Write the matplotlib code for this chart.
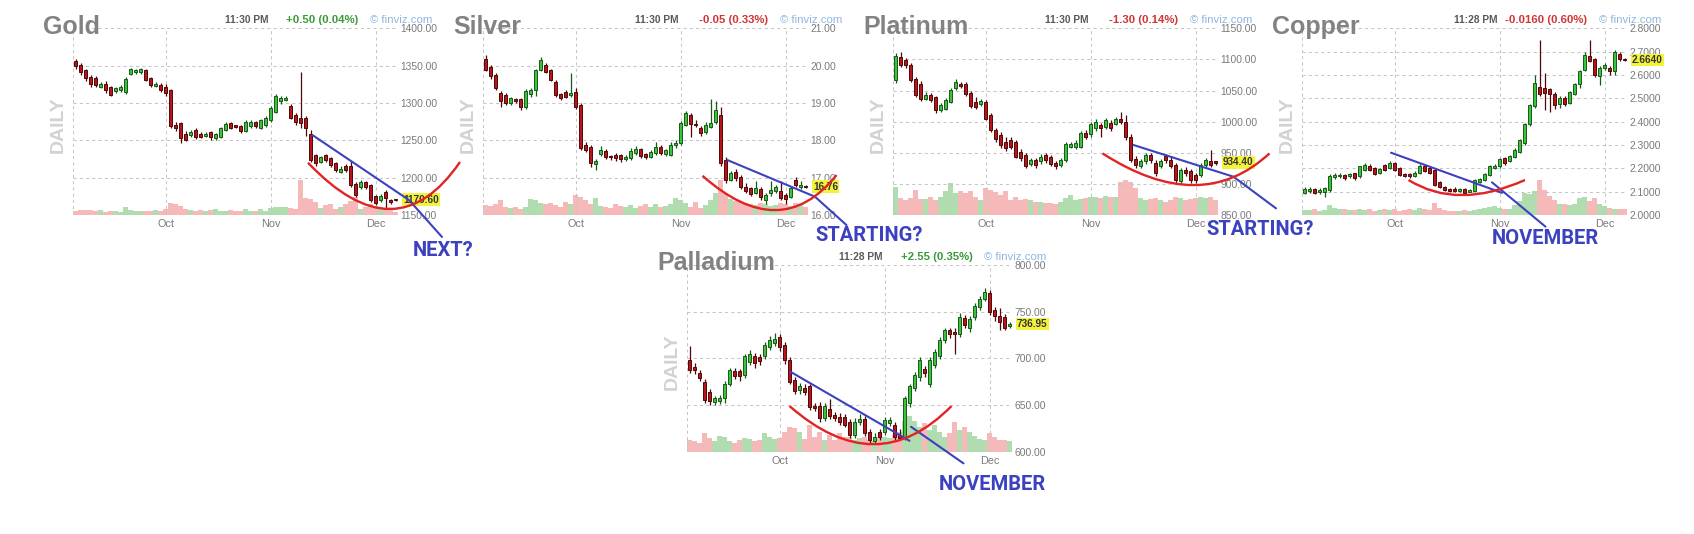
import matplotlib
matplotlib.use("Agg")
import matplotlib.pyplot as plt
from matplotlib.path import Path
from matplotlib.patches import PathPatch
from matplotlib.transforms import blended_transform_factory

# ---------------- DATA ----------------
MONTHS = ["Oct", "Nov", "Dec"]
MONTH_POS = [18, 39, 60]

GOLD_OPEN = [1356, 1351, 1344, 1335, 1333, 1322, 1326, 1321, 1316, 1317,
             1315, 1339, 1341, 1341, 1344, 1333, 1323, 1324, 1322, 1317,
             1271, 1273, 1259, 1257, 1264, 1259, 1256, 1261, 1253, 1255,
             1264, 1273, 1269, 1269, 1263, 1269, 1274, 1267, 1270, 1277,
             1288, 1302, 1304, 1296, 1284, 1280, 1280, 1259, 1230, 1221,
             1230, 1226, 1219, 1208, 1215, 1215, 1192, 1188, 1194, 1190,
             1175, 1170, 1181, 1170, 1171]
GOLD_CLOSE = [1349, 1341, 1333, 1325, 1324, 1326, 1317, 1311, 1320, 1321,
              1332, 1345, 1344, 1345, 1331, 1324, 1326, 1317, 1313, 1269,
              1266, 1253, 1251, 1261, 1255, 1255, 1259, 1254, 1258, 1266,
              1272, 1267, 1268, 1262, 1275, 1275, 1269, 1277, 1280, 1293,
              1310, 1306, 1307, 1280, 1274, 1273, 1266, 1224, 1219, 1227,
              1224, 1217, 1210, 1212, 1210, 1190, 1177, 1194, 1188, 1170,
              1166, 1175, 1173, 1168, 1170]
GOLD_HIGH = [1359, 1353, 1346, 1337, 1336, 1328, 1329, 1323, 1322, 1324,
             1335, 1347, 1346, 1347, 1346, 1335, 1328, 1327, 1325, 1319,
             1274, 1275, 1262, 1264, 1266, 1261, 1261, 1263, 1260, 1268,
             1274, 1275, 1271, 1271, 1277, 1277, 1276, 1279, 1283, 1296,
             1312, 1309, 1309, 1298, 1286, 1341, 1282, 1264, 1232, 1229,
             1232, 1228, 1221, 1215, 1218, 1222, 1194, 1197, 1196, 1192,
             1177, 1178, 1184, 1172, 1172]
GOLD_LOW = [1346, 1338, 1330, 1322, 1321, 1320, 1314, 1309, 1314, 1315,
            1312, 1337, 1339, 1339, 1329, 1321, 1321, 1315, 1310, 1266,
            1263, 1246, 1249, 1255, 1252, 1253, 1254, 1250, 1251, 1253,
            1262, 1265, 1266, 1260, 1261, 1267, 1267, 1265, 1268, 1275,
            1286, 1299, 1302, 1278, 1271, 1266, 1256, 1221, 1216, 1219,
            1221, 1214, 1207, 1206, 1207, 1187, 1174, 1185, 1185, 1167,
            1163, 1167, 1160, 1165, 1169]
GOLD_VOL = [12, 13, 14, 13, 10, 14, 8, 12, 10, 9,
            22, 14, 12, 11, 12, 10, 13, 10, 18, 35,
            30, 26, 18, 14, 12, 15, 11, 14, 16, 12,
            10, 13, 12, 11, 16, 12, 10, 17, 12, 20,
            24, 22, 22, 20, 18, 100, 48, 45, 38, 20,
            28, 30, 18, 22, 30, 40, 50, 18, 22, 32,
            25, 18, 20, 14, 8]

SILVER_OPEN = [20.17, 19.97, 19.75, 19.26, 19.21, 18.99, 19.10, 19.10, 18.88, 19.23,
               19.35, 19.88, 20.02, 19.88, 19.57, 19.23, 19.30, 19.21, 19.30, 18.95,
               17.88, 17.83, 17.36, 17.63, 17.72, 17.58, 17.60, 17.60, 17.49, 17.52,
               17.67, 17.77, 17.63, 17.56, 17.66, 17.83, 17.63, 17.61, 17.87, 17.92,
               18.41, 18.68, 18.44, 18.34, 18.23, 18.37, 18.50, 18.68, 17.47, 16.94,
               17.16, 17.03, 16.76, 16.71, 16.60, 16.69, 16.40, 16.58, 16.65, 16.65,
               16.54, 16.49, 16.94, 16.74, 16.78]
SILVER_CLOSE = [19.88, 19.71, 19.39, 19.04, 18.99, 19.12, 19.05, 18.88, 19.33, 19.35,
                19.87, 20.15, 19.84, 19.62, 19.21, 19.13, 19.17, 19.28, 18.90, 17.79,
                17.74, 17.38, 17.45, 17.74, 17.56, 17.54, 17.52, 17.49, 17.56, 17.72,
                17.77, 17.58, 17.56, 17.69, 17.83, 17.67, 17.73, 17.87, 17.92, 18.46,
                18.72, 18.44, 18.40, 18.19, 18.41, 18.47, 18.81, 17.38, 16.94, 17.12,
                16.98, 16.76, 16.63, 16.56, 16.71, 16.49, 16.54, 16.67, 16.74, 16.45,
                16.42, 16.71, 16.80, 16.80, 16.75]
SILVER_HIGH = [20.28, 20.02, 19.80, 19.32, 19.28, 19.16, 19.14, 19.14, 19.38, 19.40,
               19.90, 20.22, 20.06, 19.92, 19.62, 19.28, 19.35, 19.80, 19.40, 19.00,
               17.95, 17.88, 17.50, 17.85, 17.78, 17.62, 17.65, 17.64, 17.60, 17.80,
               17.85, 17.80, 17.66, 17.75, 17.95, 17.88, 17.78, 17.95, 18.00, 18.52,
               18.78, 18.72, 18.55, 18.38, 18.48, 19.10, 19.05, 18.90, 17.55, 17.18,
               17.22, 17.08, 16.85, 16.75, 16.90, 16.75, 16.58, 16.90, 16.80, 16.92,
               16.60, 16.76, 17.02, 16.90, 16.80]
SILVER_LOW = [19.85, 19.65, 19.35, 18.90, 18.95, 18.95, 19.00, 18.82, 18.85, 19.15,
              19.20, 19.85, 19.80, 19.58, 19.16, 19.08, 19.12, 19.17, 18.85, 17.75,
              17.68, 17.28, 17.20, 17.58, 17.50, 17.48, 17.45, 17.42, 17.45, 17.48,
              17.62, 17.52, 17.50, 17.52, 17.62, 17.62, 17.58, 17.58, 17.80, 17.88,
              18.38, 18.10, 18.35, 18.12, 18.18, 18.32, 18.45, 17.30, 16.85, 16.90,
              16.92, 16.70, 16.58, 16.50, 16.55, 16.40, 16.30, 16.52, 16.60, 16.40,
              16.30, 16.45, 16.75, 16.70, 16.72]
SILVER_VOL = [29, 26, 31, 43, 24, 19, 22, 16, 24, 45,
              43, 35, 31, 35, 29, 24, 38, 31, 57, 52,
              43, 31, 48, 26, 24, 19, 31, 26, 22, 29,
              19, 26, 31, 24, 31, 22, 26, 31, 48, 43,
              35, 24, 38, 19, 29, 43, 62, 100, 62, 45,
              40, 38, 35, 31, 29, 35, 31, 26, 29, 33,
              31, 26, 35, 29, 24]

PLAT_OPEN = [1067, 1104, 1099, 1091, 1068, 1061, 1037, 1043, 1039, 1019,
             1021, 1032, 1054, 1061, 1061, 1046, 1031, 1028, 1031, 1011,
             987, 979, 968, 971, 968, 952, 946, 932, 938, 936,
             946, 943, 934, 930, 938, 960, 960, 960, 981, 980,
             989, 994, 992, 998, 997, 1005, 1000, 976, 940, 929,
             936, 946, 934, 928, 945, 939, 930, 904, 923, 920,
             914, 914, 930, 936, 935]
PLAT_CLOSE = [1105, 1091, 1091, 1067, 1043, 1036, 1043, 1035, 1019, 1027,
              1035, 1051, 1064, 1057, 1044, 1025, 1023, 1033, 1005, 986,
              972, 963, 957, 960, 944, 941, 929, 938, 930, 944,
              938, 932, 928, 938, 964, 964, 966, 981, 976, 997,
              1000, 989, 1003, 989, 1005, 1000, 976, 939, 930, 936,
              946, 938, 917, 936, 938, 928, 906, 922, 917, 906,
              906, 930, 938, 930, 934]
PLAT_HIGH = [1110, 1112, 1102, 1094, 1072, 1065, 1047, 1046, 1042, 1030,
             1038, 1054, 1068, 1064, 1063, 1049, 1040, 1036, 1034, 1014,
             990, 984, 975, 975, 971, 956, 949, 941, 941, 948,
             950, 946, 937, 941, 967, 968, 970, 985, 986, 1000,
             1004, 998, 1006, 1002, 1008, 1016, 1010, 980, 945, 940,
             950, 950, 938, 940, 948, 943, 933, 926, 927, 924,
             917, 933, 942, 955, 937]
PLAT_LOW = [1062, 1088, 1086, 1064, 1040, 1033, 1034, 1031, 1014, 1016,
            1018, 1030, 1051, 1054, 1041, 1022, 1020, 1025, 1002, 983,
            968, 958, 953, 956, 941, 937, 925, 928, 926, 932,
            934, 929, 924, 927, 935, 957, 956, 957, 972, 976,
            985, 976, 988, 985, 994, 997, 970, 935, 926, 925,
            932, 934, 913, 925, 934, 925, 902, 900, 913, 902,
            902, 911, 927, 927, 931]
PLAT_VOL = [79, 48, 43, 48, 71, 45, 46, 52, 43, 52,
            67, 92, 62, 67, 62, 67, 52, 43, 76, 71,
            64, 57, 67, 43, 52, 43, 45, 43, 38, 38,
            33, 33, 31, 38, 48, 57, 43, 45, 48, 52,
            52, 48, 54, 52, 52, 95, 100, 95, 76, 48,
            43, 45, 48, 43, 38, 43, 52, 48, 43, 45,
            48, 52, 48, 52, 43]

COPPER_OPEN = [2.093, 2.102, 2.110, 2.098, 2.100, 2.105, 2.162, 2.165, 2.170, 2.165,
               2.178, 2.165, 2.194, 2.212, 2.200, 2.180, 2.215, 2.200, 2.222, 2.200,
               2.176, 2.176, 2.168, 2.180, 2.208, 2.200, 2.194, 2.143, 2.119, 2.112,
               2.113, 2.102, 2.110, 2.100, 2.102, 2.140, 2.150, 2.172, 2.200, 2.208,
               2.245, 2.230, 2.250, 2.270, 2.310, 2.390, 2.467, 2.550, 2.546, 2.538,
               2.520, 2.475, 2.503, 2.480, 2.520, 2.560, 2.622, 2.682, 2.667, 2.596,
               2.628, 2.632, 2.618, 2.690, 2.670]
COPPER_CLOSE = [2.110, 2.112, 2.096, 2.108, 2.115, 2.165, 2.172, 2.172, 2.158, 2.175,
                2.160, 2.208, 2.215, 2.194, 2.176, 2.197, 2.194, 2.222, 2.194, 2.172,
                2.168, 2.165, 2.182, 2.212, 2.190, 2.180, 2.129, 2.119, 2.107, 2.104,
                2.104, 2.110, 2.096, 2.106, 2.150, 2.155, 2.176, 2.208, 2.212, 2.240,
                2.222, 2.252, 2.280, 2.320, 2.390, 2.470, 2.564, 2.517, 2.524, 2.517,
                2.470, 2.500, 2.474, 2.527, 2.560, 2.617, 2.685, 2.660, 2.600, 2.632,
                2.642, 2.618, 2.700, 2.670, 2.664]
COPPER_HIGH = [2.118, 2.118, 2.115, 2.115, 2.120, 2.175, 2.178, 2.178, 2.175, 2.182,
               2.182, 2.212, 2.222, 2.218, 2.205, 2.202, 2.220, 2.230, 2.228, 2.205,
               2.180, 2.180, 2.188, 2.218, 2.214, 2.205, 2.198, 2.147, 2.124, 2.116,
               2.118, 2.115, 2.114, 2.110, 2.155, 2.160, 2.181, 2.213, 2.218, 2.246,
               2.250, 2.258, 2.286, 2.326, 2.396, 2.476, 2.600, 2.750, 2.610, 2.545,
               2.525, 2.508, 2.510, 2.533, 2.566, 2.623, 2.700, 2.752, 2.672, 2.638,
               2.650, 2.640, 2.708, 2.700, 2.674]
COPPER_LOW = [2.088, 2.095, 2.090, 2.092, 2.075, 2.100, 2.155, 2.160, 2.150, 2.158,
              2.152, 2.160, 2.190, 2.188, 2.170, 2.175, 2.188, 2.195, 2.188, 2.166,
              2.162, 2.158, 2.162, 2.175, 2.185, 2.176, 2.124, 2.114, 2.102, 2.099,
              2.100, 2.098, 2.092, 2.097, 2.100, 2.136, 2.146, 2.168, 2.196, 2.203,
              2.216, 2.225, 2.245, 2.265, 2.300, 2.380, 2.460, 2.510, 2.450, 2.440,
              2.455, 2.460, 2.465, 2.475, 2.515, 2.545, 2.615, 2.655, 2.590, 2.555,
              2.620, 2.600, 2.600, 2.662, 2.660]
COPPER_VOL = [14, 15, 17, 12, 14, 28, 20, 16, 18, 14,
              15, 18, 14, 16, 12, 14, 16, 15, 18, 12,
              14, 17, 14, 20, 16, 14, 33, 20, 15, 12,
              10, 12, 14, 10, 15, 18, 20, 22, 25, 20,
              18, 16, 28, 40, 62, 60, 68, 100, 72, 55,
              42, 30, 32, 28, 30, 48, 52, 40, 48, 32,
              25, 20, 18, 16, 16]

PALL_OPEN = [698, 691, 684, 675, 664, 653, 654, 657, 673, 686,
             686, 682, 696, 702, 701, 702, 712, 716, 723, 714,
             698, 677, 666, 668, 670, 649, 649, 636, 646, 639,
             637, 637, 632, 618, 632, 635, 621, 611, 621, 621,
             631, 629, 618, 616, 652, 668, 680, 689, 673, 693,
             703, 720, 730, 728, 726, 743, 733, 744, 755, 764,
             770, 752, 745, 744, 735]
PALL_CLOSE = [688, 687, 679, 655, 654, 657, 657, 673, 687, 681,
              681, 702, 705, 695, 697, 714, 720, 721, 712, 698,
              675, 665, 670, 664, 648, 647, 636, 649, 638, 636,
              632, 629, 618, 632, 635, 620, 612, 616, 616, 634,
              634, 616, 615, 657, 670, 682, 698, 684, 698, 707,
              720, 730, 726, 726, 744, 736, 742, 756, 764, 771,
              750, 745, 739, 732, 737]
PALL_HIGH = [713, 695, 688, 678, 667, 660, 661, 676, 690, 690,
             689, 705, 709, 706, 705, 717, 724, 727, 726, 717,
             701, 680, 674, 672, 673, 652, 653, 652, 656, 643,
             641, 640, 635, 636, 640, 638, 624, 620, 624, 637,
             637, 632, 624, 660, 673, 685, 701, 692, 701, 710,
             723, 733, 733, 732, 749, 746, 745, 759, 767, 775,
             773, 755, 754, 748, 739]
PALL_LOW = [684, 683, 676, 652, 650, 650, 651, 652, 670, 678,
            676, 679, 693, 690, 693, 699, 709, 713, 708, 694,
            672, 662, 662, 661, 645, 644, 632, 633, 635, 633,
            629, 626, 615, 615, 629, 617, 609, 608, 612, 618,
            628, 613, 612, 613, 648, 665, 676, 680, 669, 690,
            699, 716, 722, 705, 723, 732, 728, 741, 752, 761,
            746, 740, 730, 730, 733]
PALL_VOL = [33, 29, 24, 54, 38, 29, 45, 43, 29, 26,
            33, 38, 35, 29, 33, 52, 41, 36, 38, 57,
            70, 67, 57, 35, 76, 43, 57, 33, 48, 33,
            52, 43, 43, 33, 38, 43, 33, 29, 41, 43,
            38, 48, 57, 86, 100, 86, 71, 81, 62, 76,
            57, 43, 54, 83, 62, 71, 57, 45, 35, 33,
            52, 43, 33, 33, 30]

# hand-drawn annotations (data coordinates of each panel)
GOLD_BLUE = [[(47.4, 1257), (66.7, 1170), (73.3, 1120.6)]]
GOLD_RED = [(46.5, 1220), (62.9, 1158), (76.9, 1221)]
SILVER_BLUE = [[(48.4, 17.47), (65.9, 16.49), (72.2, 15.73)]]
SILVER_RED = [(43.4, 17.05), (57.9, 16.13), (70.2, 17.07)]
PLAT_BLUE = [[(47.6, 962.5), (67.6, 911.5), (76.1, 860.7)]]
PLAT_RED = [(41.4, 949), (59.6, 898), (74.8, 949)]
COPPER_BLUE = [[(17.3, 2.267), (39.5, 2.095)], [(37.5, 2.14), (48.2, 1.95)]]
COPPER_RED = [(20.8, 2.15), (31.5, 2.085), (44.1, 2.15)]
PALL_BLUE = [[(20.2, 685.6), (44.0, 611.7)], [(44.3, 626.7), (54.8, 587.5)]]
PALL_RED = [(20.0, 648.9), (36.8, 608), (52.4, 648.9)]

# ---------------- STYLE / LAYOUT ----------------
W, H = 1694, 534
DPI = 100
PW, PH = 325.0, 186.7
RED_F, RED_E = "#b8141b", "#4f0808"
GRN_F, GRN_E = "#3cc23c", "#175a17"
VOL_R, VOL_G = "#f6b9b9", "#b0dcb0"
ANN_BLUE = "#3c41c0"
ANN_RED = "#e02424"
GRID = "#c6c6c6"

panels = [
    dict(name="Gold", left=73, top=28.3, o=GOLD_OPEN, c=GOLD_CLOSE, h=GOLD_HIGH, l=GOLD_LOW,
         v=GOLD_VOL, ylim=(1150, 1400), ticks=[1150, 1200, 1250, 1300, 1350, 1400], fmt="%.2f",
         time="11:30 PM", chg="+0.50 (0.04%)", chgc="#3a9a3a", last=1170.60, lastlbl="1170.60",
         blue=GOLD_BLUE, red=GOLD_RED, ann="NEXT?", ann_off=(339.7, 222.4)),
    dict(name="Silver", left=483, top=28.3, o=SILVER_OPEN, c=SILVER_CLOSE, h=SILVER_HIGH, l=SILVER_LOW,
         v=SILVER_VOL, ylim=(16, 21), ticks=[16, 17, 18, 19, 20, 21], fmt="%.2f",
         time="11:30 PM", chg="-0.05 (0.33%)", chgc="#d03434", last=16.76, lastlbl="16.76",
         blue=SILVER_BLUE, red=SILVER_RED, ann="STARTING?", ann_off=(332, 207)),
    dict(name="Platinum", left=893, top=28.3, o=PLAT_OPEN, c=PLAT_CLOSE, h=PLAT_HIGH, l=PLAT_LOW,
         v=PLAT_VOL, ylim=(850, 1150), ticks=[850, 900, 950, 1000, 1050, 1100, 1150], fmt="%.2f",
         time="11:30 PM", chg="-1.30 (0.14%)", chgc="#d03434", last=934.40, lastlbl="934.40",
         blue=PLAT_BLUE, red=PLAT_RED, ann="STARTING?", ann_off=(313.7, 201)),
    dict(name="Copper", left=1302, top=28.3, o=COPPER_OPEN, c=COPPER_CLOSE, h=COPPER_HIGH, l=COPPER_LOW,
         v=COPPER_VOL, ylim=(2.0, 2.8), ticks=[2.0, 2.1, 2.2, 2.3, 2.4, 2.5, 2.6, 2.7, 2.8], fmt="%.4f",
         time="11:28 PM", chg="-0.0160 (0.60%)", chgc="#d03434", last=2.664, lastlbl="2.6640",
         blue=COPPER_BLUE, red=COPPER_RED, ann="NOVEMBER", ann_off=(189.7, 209.7)),
    dict(name="Palladium", left=687, top=265, o=PALL_OPEN, c=PALL_CLOSE, h=PALL_HIGH, l=PALL_LOW,
         v=PALL_VOL, ylim=(600, 800), ticks=[600, 650, 700, 750, 800], fmt="%.2f",
         time="11:28 PM", chg="+2.55 (0.35%)", chgc="#3a9a3a", last=736.95, lastlbl="736.95",
         blue=PALL_BLUE, red=PALL_RED, ann="NOVEMBER", ann_off=(251.3, 220)),
]

fig = plt.figure(figsize=(W / DPI, H / DPI), dpi=DPI)
fig.patch.set_facecolor("white")
SANS = "Liberation Sans"


def ftext(px, py, s, **kw):
    return fig.text(px / W, 1 - py / H, s, **kw)


for p in panels:
    left, top = p["left"], p["top"]
    rect = [left / W, 1 - (top + PH) / H, PW / W, PH / H]
    n = len(p["c"])
    xs = list(range(n))
    up = [c >= o for o, c in zip(p["o"], p["c"])]

    # volume layer
    axv = fig.add_axes(rect, zorder=1)
    axv.set_xlim(-0.5, 64.5)
    axv.set_ylim(0, 530)
    axv.axis("off")
    axv.bar(xs, p["v"], width=1.0, color=[VOL_G if u else VOL_R for u in up], linewidth=0)

    # price layer
    ax = fig.add_axes(rect, zorder=2)
    ax.set_facecolor("none")
    ax.set_xlim(-0.5, 64.5)
    ax.set_ylim(*p["ylim"])
    for s in ax.spines.values():
        s.set_visible(False)
    ax.set_yticks(p["ticks"])
    ax.yaxis.tick_right()
    ax.set_yticklabels([p["fmt"] % t for t in p["ticks"]], fontsize=7.4, color="#7a7a7a",
                       family=SANS)
    ax.tick_params(axis="y", length=0, pad=1.5)
    ax.set_xticks(MONTH_POS)
    ax.set_xticklabels(MONTHS, fontsize=7.8, color="#7a7a7a", family=SANS)
    ax.tick_params(axis="x", length=0, pad=3.0)
    ax.grid(True, color=GRID, linestyle=(0, (3, 3)), linewidth=0.75)
    ax.set_axisbelow(True)
    for xb in (-0.5, 64.5):
        ax.axvline(xb, color=GRID, linestyle=(0, (3, 3)), linewidth=0.75, zorder=0.5)

    # candles
    fills = [GRN_F if u else RED_F for u in up]
    edges = [GRN_E if u else RED_E for u in up]
    span = p["ylim"][1] - p["ylim"][0]
    ax.vlines(xs, p["l"], p["h"], colors=edges, linewidth=0.9, zorder=3)
    bottoms = [min(o, c) for o, c in zip(p["o"], p["c"])]
    heights = [max(abs(c - o), span * 0.008) for o, c in zip(p["o"], p["c"])]
    ax.bar(xs, heights, bottom=bottoms, width=0.74, color=fills, edgecolor=edges,
           linewidth=0.7, zorder=4)

    # last price label
    tr = blended_transform_factory(ax.transAxes, ax.transData)
    ax.text(1.0 + 5.0 / PW, p["last"], p["lastlbl"], transform=tr, ha="left", va="center",
            fontsize=7.2, color="#333333", fontweight="bold", family=SANS, zorder=5,
            bbox=dict(boxstyle="square,pad=0.12", fc="#f3f33c", ec="none"))

    # vertical DAILY
    ax.text(-14.5 / PW, 1 - 96.7 / PH, "DAILY", transform=ax.transAxes, rotation=90,
            ha="center", va="center", fontsize=14, fontweight="bold", color="#d2d2d2",
            family=SANS)

    # header texts
    ftext(left - 30, top + 5.5, p["name"], fontsize=18, fontweight="bold", color="#828282",
          family=SANS, ha="left", va="baseline")
    ftext(left + 152, top - 5.5, p["time"], fontsize=7.4, fontweight="bold", color="#5a5a5a",
          family=SANS, ha="left", va="baseline")
    ftext(left + 285.5, top - 5.5, p["chg"], fontsize=8.2, fontweight="bold", color=p["chgc"],
          family=SANS, ha="right", va="baseline")
    ftext(left + 359, top - 5.5, "\u00a9 finviz.com", fontsize=8.2, color="#8fb6df",
          family=SANS, ha="right", va="baseline")

    # hand-drawn annotations
    for seg in p["blue"]:
        ax.plot([q[0] for q in seg], [q[1] for q in seg], color=ANN_BLUE, linewidth=1.5,
                clip_on=False, zorder=10, solid_capstyle="round")
    p0, pm, p2 = p["red"]
    ctrl = (2 * pm[0] - 0.5 * (p0[0] + p2[0]), 2 * pm[1] - 0.5 * (p0[1] + p2[1]))
    path = Path([p0, ctrl, p2], [Path.MOVETO, Path.CURVE3, Path.CURVE3])
    ax.add_patch(PathPatch(path, fc="none", ec=ANN_RED, lw=1.7, clip_on=False, zorder=11,
                           transform=ax.transData))
    ftext(left + p["ann_off"][0], top + p["ann_off"][1], p["ann"], fontsize=14.5,
          fontweight="bold", color=ANN_BLUE, family="Roboto", ha="left", va="center")

fig.savefig("out.png", dpi=DPI, facecolor="white")
